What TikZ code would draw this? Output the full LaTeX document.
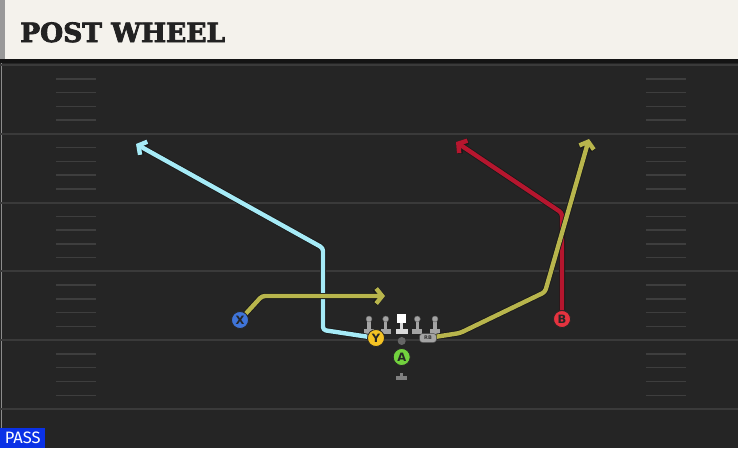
\documentclass[tikz,border=0pt]{standalone}
\usepackage{fontspec}
\usepackage{tikz}
\usetikzlibrary{arrows.meta,positioning}
\newfontfamily\titlefont{DejaVu Serif}[BoldFeatures={FakeBold=3}]
\newfontfamily\labelfont{Fira Sans}
\newfontfamily\chipfont{DejaVu Sans}
\definecolor{fieldgray}{HTML}{252525}
\definecolor{yardgray}{HTML}{3A3A3A}
\definecolor{hashgray}{HTML}{3E3E3E}
\definecolor{titlebg}{HTML}{F4F2EC}
\definecolor{titleink}{HTML}{222222}
\definecolor{passblue}{HTML}{0A31E6}
\definecolor{postcyan}{HTML}{A6EBF7}
\definecolor{wheelolive}{HTML}{B8B54C}
\definecolor{dragred}{HTML}{B5162E}
\definecolor{xblue}{HTML}{3F74D8}
\definecolor{yyellow}{HTML}{F5C324}
\definecolor{bred}{HTML}{E5333F}
\definecolor{agreen}{HTML}{72D13E}
\definecolor{linegray}{HTML}{A4A4A4}

\begin{document}
\begin{tikzpicture}
              [x=1pt,y=-1pt,
                yard/.style={draw=yardgray,line width=2pt},
                hash/.style={draw=hashgray,line width=1.5pt},
                player/.style={circle,draw=black!85,line width=0.8pt,minimum size=17pt,inner sep=0pt,
                  font=\chipfont\bfseries\fontsize{11.5}{11.5}\selectfont,text=black!85},
                lineman/.style={circle,fill=linegray,draw=black!60,line width=0.4pt,minimum size=6pt,inner sep=0pt},
                route/.style={draw=#1,line width=4.4pt,line join=round,rounded corners=3pt,
                  -{Straight Barb[length=6pt,width=15pt]},preaction={draw=black!90,line width=6pt}}]
              \useasboundingbox (0,0) rectangle (738,448);
              \fill[fieldgray] (0,0) rectangle (738,448);
              \fill[titlebg] (0,0) rectangle (738,59);
              \fill[black!40] (0,0) rectangle (5,59);
              \fill[black!92] (0,59) rectangle (738,63);
              \draw[black!45,line width=1pt] (1,63) -- (1,448);
              \foreach \k in {0,...,5}
              \draw[yard] (0,{65+68.8*\k}) -- (738,{65+68.8*\k});
              \foreach \k in {0,...,4}
              \foreach \j in {1,...,4} {
                \draw[hash] (56,{65+68.8*\k+13.76*\j}) -- (96,{65+68.8*\k+13.76*\j});
                \draw[hash] (646,{65+68.8*\k+13.76*\j}) -- (686,{65+68.8*\k+13.76*\j});
              }
              \node[anchor=base west,text=titleink,inner sep=0pt,
                font=\titlefont\bfseries\fontsize{26.5}{26.5}\selectfont] (title) at (20,42) {POST WHEEL};
              \node[anchor=south west,fill=passblue,text=white,inner sep=0pt,minimum width=45pt,minimum height=20pt,
                font=\labelfont\fontsize{16.5}{16.5}\selectfont] (pass) at (0,448) {PASS};
              \foreach \i/\x in {1/369,2/385.7,4/417.3,5/435} {
                \fill[linegray] (\x-1.6,320) rectangle (\x+1.6,332);
                \fill[linegray] (\x-5,329) rectangle (\x+5,334);
                \node[lineman] (l\i) at (\x,319) {};
              }
              \fill[white!85!black] (400.2,322) rectangle (403.2,331);
              \fill[white!85!black] (396,329) rectangle (408,334);
              \node[rectangle,fill=white,minimum size=9pt,inner sep=0pt] (snap) at (401.7,318.5) {};
              \node[circle,fill=black!60,minimum size=8pt,inner sep=0pt,below=22.5pt of snap.center,anchor=center] (dot) {};
              \node[player,fill=agreen,below=16pt of dot.center,anchor=center] (a) {A};
              \fill[black!50] (400.2,373) rectangle (403.2,377);
              \fill[black!50] (396,376) rectangle (407,380);
              \node[player,fill=xblue] (x) at (240,320) {X};
              \node[player,fill=yyellow] (y) at (376,338) {Y};
              \node[player,fill=bred] (b) at (562,319) {B};
              \node[rounded corners=3pt,fill=linegray,draw=black!70,line width=0.5pt,minimum width=17pt,minimum height=9pt,inner sep=0pt,
                text=black!80,font=\chipfont\bfseries\fontsize{5}{5}\selectfont] (rb) at (428,338) {RB};
              \coordinate (xcut) at (262,296);
              \coordinate (xend) at (385,296);
              \coordinate (ycut) at (323,330);
              \coordinate (ypost) at (323,248);
              \coordinate (yend) at (136,144);
              \coordinate (bstem) at (562,213);
              \coordinate (bend) at (456,142);
              \coordinate (rbflat) at (460,333);
              \coordinate (rbturn) at (545,292);
              \coordinate (rbend) at (589,139);
              \draw[route=postcyan] (y) -- (ycut) -- (ypost) -- (yend);
              \draw[route=dragred] (b) -- (bstem) -- (bend);
              \draw[route=wheelolive] (x) -- (xcut) -- (xend);
              \draw[route=wheelolive] (rb) -- (rbflat) -- (rbturn) -- (rbend);
            \end{tikzpicture}
\end{document}
